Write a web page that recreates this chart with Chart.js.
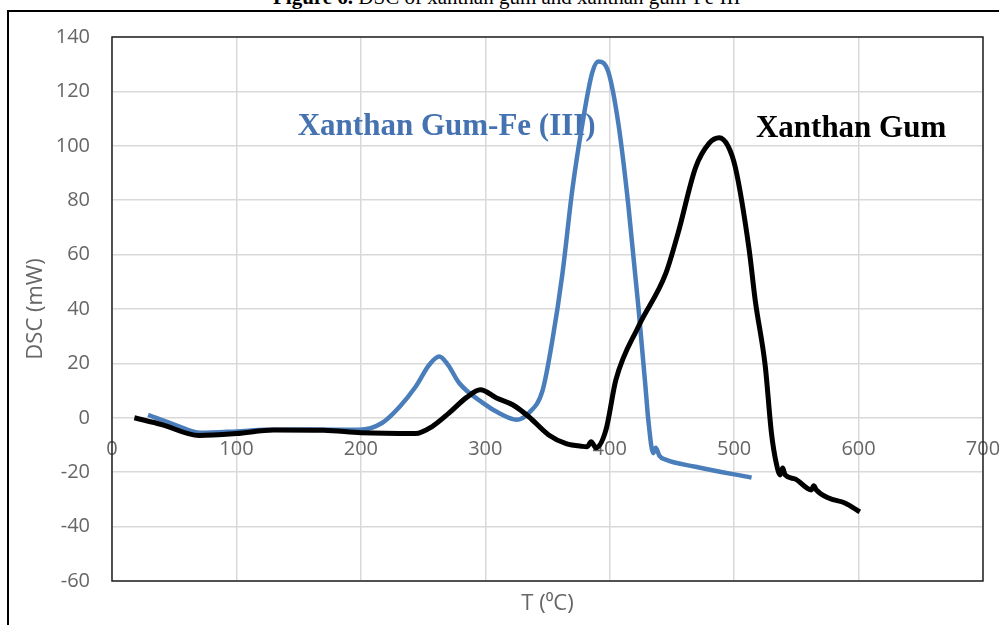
<!DOCTYPE html>
<html>
<head>
<meta charset="utf-8">
<script src="https://cdn.jsdelivr.net/npm/chart.js@4"></script>
<style>
	body { margin: 0; background: #fff; width: 999px; height: 625px; overflow: hidden; position: relative; }
	#cap { position: absolute; left: 273px; top: -13px; font: 21px/21px "Liberation Serif", serif; white-space: nowrap; color: #000; }
	#frame { position: absolute; left: 7px; top: 10px; width: 1000px; height: 620px; border-left: 2px solid #000; border-top: 2px solid #000; }
	#chart { position: absolute; left: 0; top: 0; }
</style>
</head>
<body>
	<div id="cap"><b>Figure 6.</b> DSC of xanthan gum and xanthan gum-Fe III</div>
	<div id="frame"></div>
	<canvas id="chart" width="999" height="625"></canvas>

	<script type="text/javascript">
		// Xanthan Gum (black curve): temperature (°C) and DSC (mW)
		var gumT   = [18, 40, 70, 100, 130, 170, 200, 244, 257, 271, 285, 296, 309, 322, 335, 351, 365, 378, 382, 385, 389, 397, 405, 423, 445, 455, 469, 480, 488, 495, 501, 512, 517, 525, 530, 534, 537, 539, 541, 549, 562, 564, 566, 576, 589, 601];
		var gumDSC = [0, -2.5, -6.5, -5.8, -4.5, -4.6, -5.5, -5.8, -3.3, 1.8, 7.5, 10.3, 7.3, 4.8, 0.4, -6.3, -9.5, -10.5, -10.6, -8.8, -11, -4.4, 14, 33.5, 53, 68, 92, 101, 103, 100, 92, 62, 43, 19, -5.7, -17, -21, -18.5, -21, -22.5, -26.5, -25, -26.5, -29.5, -31.3, -34.6];

		// Xanthan Gum-Fe (III) (blue curve)
		var feT   = [29, 50, 71, 100, 124, 160, 199, 217, 231, 244, 255, 263, 270, 279, 298, 312, 325, 335, 346, 354, 362, 370, 378, 386, 391, 399, 407, 415, 423, 429, 431, 435, 437, 440, 445, 469, 514];
		var feDSC = [1.1, -2.5, -5.5, -5, -4.4, -4.3, -4.4, -1.9, 4, 11.4, 19.5, 22.5, 19.5, 12.8, 5.5, 1.5, -0.7, 1.8, 10, 28.7, 53, 84, 108, 127, 131, 127, 108, 78, 41, 10, -0.7, -13, -11, -14, -15.4, -18, -22];

		var seriesNames = ['Xanthan Gum', 'Xanthan Gum-Fe (III)'];
		var seriesColors = ['#000000', '#4a7ebb'];
		var labelColors = ['#000000', '#4572b0'];
		// where each curve name sits, in data units [T, DSC]
		var labelAt = [[594, 106], [269, 107]];

		function toPoints(xs, ys) {
			var pts = [];
			for (var i = 0; i < xs.length; i++) pts.push({ x: xs[i], y: ys[i] });
			return pts;
		}

		function noSidePadding(scale) {
			scale.paddingLeft = 0;
			scale.paddingRight = 0;
		}

		var plotFrame = {
			id: 'plotFrame',
			beforeDatasetsDraw: function (chart) {
				var a = chart.chartArea, ctx = chart.ctx;
				ctx.save();
				ctx.strokeStyle = '#222';
				ctx.lineWidth = 1.5;
				ctx.strokeRect(a.left, a.top, a.right - a.left, a.bottom - a.top);
				// curve names
				ctx.font = 'bold 31px "Liberation Serif", serif';
				ctx.textAlign = 'center';
				ctx.textBaseline = 'middle';
				for (var i = 0; i < seriesNames.length; i++) {
					ctx.fillStyle = labelColors[i];
					ctx.fillText(seriesNames[i], chart.scales.x.getPixelForValue(labelAt[i][0]), chart.scales.y.getPixelForValue(labelAt[i][1]));
				}
				ctx.restore();
			}
		};

		var tickFont = { family: '"Open Sans", sans-serif', size: 20 };

		new Chart(document.getElementById('chart').getContext('2d'), {
			type: 'line',
			data: {
				datasets: [{
					label: seriesNames[0],
					data: toPoints(gumT, gumDSC),
					borderColor: seriesColors[0],
					borderWidth: 5,
					pointRadius: 0,
					cubicInterpolationMode: 'monotone',
					fill: false
				}, {
					label: seriesNames[1],
					data: toPoints(feT, feDSC),
					borderColor: seriesColors[1],
					borderWidth: 4.5,
					pointRadius: 0,
					cubicInterpolationMode: 'monotone',
					fill: false
				}]
			},
			options: {
				responsive: false,
				animation: false,
				layout: { padding: { left: 12, right: 16, top: 37, bottom: 0 } },
				plugins: { legend: { display: false }, tooltip: { enabled: false } },
				scales: {
					x: {
						type: 'linear',
						position: { y: 0 },
						min: 0, max: 700,
						ticks: { stepSize: 100, color: '#666', font: tickFont, padding: 19, maxRotation: 0 },
						grid: { color: '#d9d9d9', lineWidth: 1.5, drawTicks: false },
						border: { display: false },
						afterFit: noSidePadding
					},
					x2: {
						type: 'linear',
						axis: 'x',
						position: 'bottom',
						min: 0, max: 700,
						ticks: { display: false },
						grid: { display: false, drawTicks: false },
						border: { display: false },
						title: { display: true, text: 'T (\u2070C)', color: '#666', font: { family: '"Open Sans", sans-serif', size: 22 }, padding: { top: 0, bottom: 8 } },
						afterFit: function (scale) { scale.height = 44; noSidePadding(scale); }
					},
					y: {
						min: -60, max: 140,
						ticks: { stepSize: 20, color: '#666', font: tickFont, padding: 22 },
						grid: { color: '#d9d9d9', lineWidth: 1.5, drawTicks: false },
						border: { display: false },
						title: { display: true, text: 'DSC (mW)', color: '#666', font: { family: '"Open Sans", sans-serif', size: 22 }, padding: { top: 11, bottom: 0 } },
						afterFit: function (scale) { scale.width = 100; }
					}
				}
			},
			plugins: [plotFrame]
		});
	</script>
</body>
</html>
